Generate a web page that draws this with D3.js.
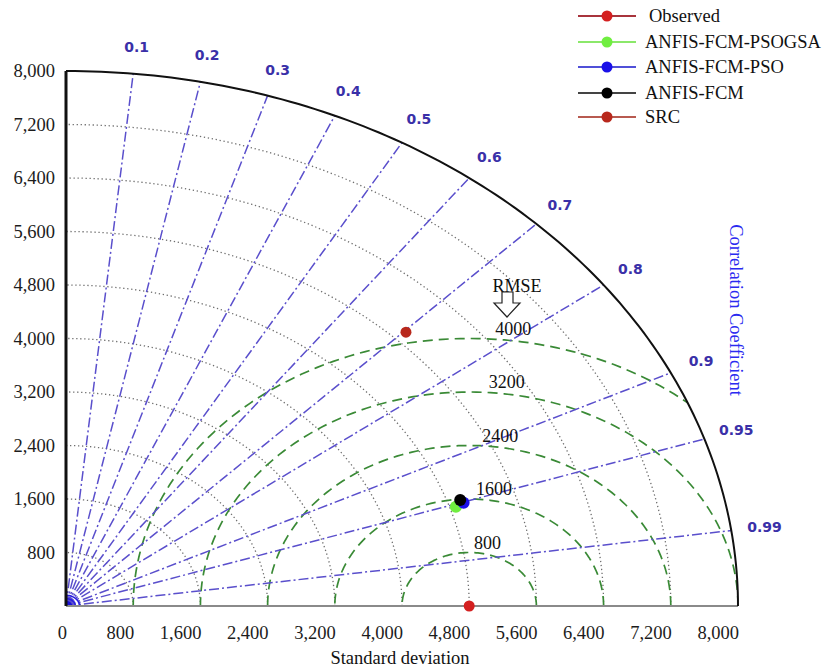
<!DOCTYPE html>
<html lang="en">
<head>
  <meta charset="UTF-8">
  <title>Taylor Diagram</title>
  <script src="https://d3js.org/d3.v7.min.js"></script>
  <style>
    body { margin: 0; background: #fff; }
    text { font-family: "Liberation Serif", "Times New Roman", serif; }
    .corr-label { font-family: "DejaVu Sans", Verdana, sans-serif; font-weight: bold; font-size: 14px; fill: #3a30a8; }
  </style>
</head>
<body>
  <svg id="chart" width="827" height="669"></svg>
  <script>
    const MAX_STD = 8000;
    const stdTicks = [0, 800, 1600, 2400, 3200, 4000, 4800, 5600, 6400, 7200, 8000];
    const stdGrid = [800, 1600, 2400, 3200, 4000, 4800, 5600, 6400, 7200];
    const corrTicks = [0.1, 0.2, 0.3, 0.4, 0.5, 0.6, 0.7, 0.8, 0.9, 0.95, 0.99];
    const rmseLevels = [800, 1600, 2400, 3200, 4000];
    const originRings = [60, 110, 160];

    const models = ['Observed', 'ANFIS-FCM-PSOGSA', 'ANFIS-FCM-PSO', 'ANFIS-FCM', 'SRC'];
    const modelStd = [4800, 4873, 4979, 4953, 5757];
    const modelCorr = [1, 0.9525, 0.9507, 0.9475, 0.703];
    const lineColors = ['#a8343c', '#8be86a', '#5050d8', '#444444', '#b85a50'];
    const dotColors = ['#d42020', '#70ee40', '#1a10e8', '#000000', '#b8281c'];
    const drawOrder = [0, 4, 1, 2, 3]; // black sits on top of blue/green

    const svg = d3.select('#chart');
    const x = d3.scaleLinear().domain([0, MAX_STD]).range([66, 738]);
    const y = d3.scaleLinear().domain([0, MAX_STD]).range([606, 71]);

    const fmt = d3.format(',');
    const polar = (r, a) => [x(r * Math.cos(a)), y(r * Math.sin(a))];
    const line = d3.line();
    const arcPts = (cx, r, a0, a1, n = 120) =>
      d3.range(n + 1).map(i => {
        const a = a0 + (a1 - a0) * i / n;
        return [x(cx + r * Math.cos(a)), y(r * Math.sin(a))];
      });

    // clip to the quarter disc
    const quarter = [[x(0), y(0)], ...arcPts(0, MAX_STD, 0, Math.PI / 2)];
    svg.append('clipPath').attr('id', 'qclip')
      .append('path').attr('d', line(quarter) + 'Z');

    const g = svg.append('g').attr('clip-path', 'url(#qclip)');

    // std dev dotted arcs
    g.selectAll('.std-arc')
      .data(stdGrid)
      .enter().append('path')
      .attr('d', r => line(arcPts(0, r, 0, Math.PI / 2)))
      .attr('fill', 'none')
      .attr('stroke', '#6e6e6e')
      .attr('stroke-width', 1.3)
      .attr('stroke-dasharray', '1.3,2.7');

    // RMSE dashed arcs around observed point
    const obsStd = modelStd[0];
    g.selectAll('.rmse-arc')
      .data(rmseLevels)
      .enter().append('path')
      .attr('d', r => line(arcPts(obsStd, r, 0, Math.PI)))
      .attr('fill', 'none')
      .attr('stroke', '#3a8a36')
      .attr('stroke-width', 1.7)
      .attr('stroke-dasharray', '10,6');

    // correlation rays
    g.selectAll('.corr-ray')
      .data(corrTicks)
      .enter().append('path')
      .attr('d', c => line([[x(0), y(0)], polar(MAX_STD, Math.acos(c))]))
      .attr('fill', 'none')
      .attr('stroke', '#5a4fcc')
      .attr('stroke-width', 1.5)
      .attr('stroke-dasharray', '10,3,2,3');

    // blue rings at the origin
    g.selectAll('.origin-ring')
      .data(originRings)
      .enter().append('path')
      .attr('d', r => line(arcPts(0, r, 0, Math.PI / 2, 20)))
      .attr('fill', 'none')
      .attr('stroke', '#2a1ee0')
      .attr('stroke-width', 1.6);
    g.append('path')
      .attr('d', line([[x(0), y(0)], ...arcPts(0, 75, 0, Math.PI / 2, 20)]) + 'Z')
      .attr('fill', '#1a10d8');

    // axes frame
    svg.append('line')
      .attr('x1', x(0)).attr('y1', y(0)).attr('x2', x(MAX_STD)).attr('y2', y(0))
      .attr('stroke', '#8a8a8a').attr('stroke-width', 2);
    svg.append('line')
      .attr('x1', x(0)).attr('y1', y(0)).attr('x2', x(0)).attr('y2', y(MAX_STD))
      .attr('stroke', '#111').attr('stroke-width', 3);
    svg.append('path')
      .attr('d', line(arcPts(0, MAX_STD, 0, Math.PI / 2)))
      .attr('fill', 'none').attr('stroke', '#111').attr('stroke-width', 2);

    // tick labels
    svg.selectAll('.xtick')
      .data(stdTicks)
      .enter().append('text')
      .attr('x', d => x(d) + 1)
      .attr('y', 639)
      .attr('text-anchor', 'end')
      .attr('font-size', 18.5)
      .attr('fill', '#1c1c1c')
      .text(d => fmt(d));

    svg.selectAll('.ytick')
      .data(stdTicks.filter(d => d > 0))
      .enter().append('text')
      .attr('x', 55)
      .attr('y', d => y(d))
      .attr('dy', '0.35em')
      .attr('text-anchor', 'end')
      .attr('font-size', 18.5)
      .attr('fill', '#1c1c1c')
      .text(d => fmt(d));

    svg.append('text')
      .attr('x', 400).attr('y', 664)
      .attr('text-anchor', 'middle')
      .attr('font-size', 18.5)
      .attr('fill', '#111')
      .text('Standard deviation');

    // correlation labels
    svg.selectAll('.corr-label')
      .data(corrTicks)
      .enter().append('text')
      .attr('class', 'corr-label')
      .attr('x', c => polar(8400, Math.acos(c))[0])
      .attr('y', c => polar(8400, Math.acos(c))[1])
      .attr('dy', '0.35em')
      .attr('text-anchor', 'middle')
      .text(c => c);

    svg.append('text')
      .attr('transform', 'translate(736,310) rotate(90)')
      .attr('text-anchor', 'middle')
      .attr('dy', '0.35em')
      .attr('font-size', 18.5)
      .attr('fill', '#2a2af0')
      .text('Correlation Coefficient');

    // RMSE labels, sitting just above the top of each arc
    svg.selectAll('.rmse-label')
      .data(rmseLevels)
      .enter().append('text')
      .attr('x', r => x(obsStd + 143 + 0.095 * r))
      .attr('y', r => y(r + 150))
      .attr('dy', '0.35em')
      .attr('text-anchor', 'middle')
      .attr('font-size', 18)
      .attr('fill', '#111')
      .text(r => r);

    svg.append('text')
      .attr('x', 517).attr('y', 286)
      .attr('dy', '0.35em')
      .attr('text-anchor', 'middle')
      .attr('font-size', 18)
      .attr('fill', '#111')
      .text('RMSE');

    // hollow arrow under RMSE
    const ax = 507, ay = 292;
    svg.append('path')
      .attr('d', `M${ax - 5},${ay} L${ax + 6},${ay} L${ax + 6},${ay + 11} L${ax + 13},${ay + 11} L${ax},${ay + 25} L${ax - 13},${ay + 11} L${ax - 5},${ay + 11} Z`)
      .attr('fill', '#fff')
      .attr('stroke', '#222')
      .attr('stroke-width', 1.2);

    // model points
    svg.selectAll('.pt')
      .data(drawOrder)
      .enter().append('circle')
      .attr('cx', i => x(modelStd[i] * modelCorr[i]))
      .attr('cy', i => y(modelStd[i] * Math.sqrt(1 - modelCorr[i] * modelCorr[i])))
      .attr('r', i => (i === 0 || i === 4) ? 5.5 : 6)
      .attr('fill', i => dotColors[i]);

    // legend
    const leg = svg.append('g').attr('transform', 'translate(578,16)');
    const rowY = [0, 26, 51, 77, 101];
    const row = leg.selectAll('.leg')
      .data(models)
      .enter().append('g')
      .attr('transform', (d, i) => `translate(0,${rowY[i]})`);
    row.append('line')
      .attr('x1', 0).attr('x2', 58)
      .attr('stroke', (d, i) => lineColors[i])
      .attr('stroke-width', 1.8);
    row.append('circle')
      .attr('cx', 29).attr('r', 5.5)
      .attr('fill', (d, i) => dotColors[i]);
    row.append('text')
      .attr('x', (d, i) => i === 0 ? 71 : 67)
      .attr('dy', '0.35em')
      .attr('font-size', 18.5)
      .attr('fill', '#111')
      .text(d => d);
  </script>
</body>
</html>
